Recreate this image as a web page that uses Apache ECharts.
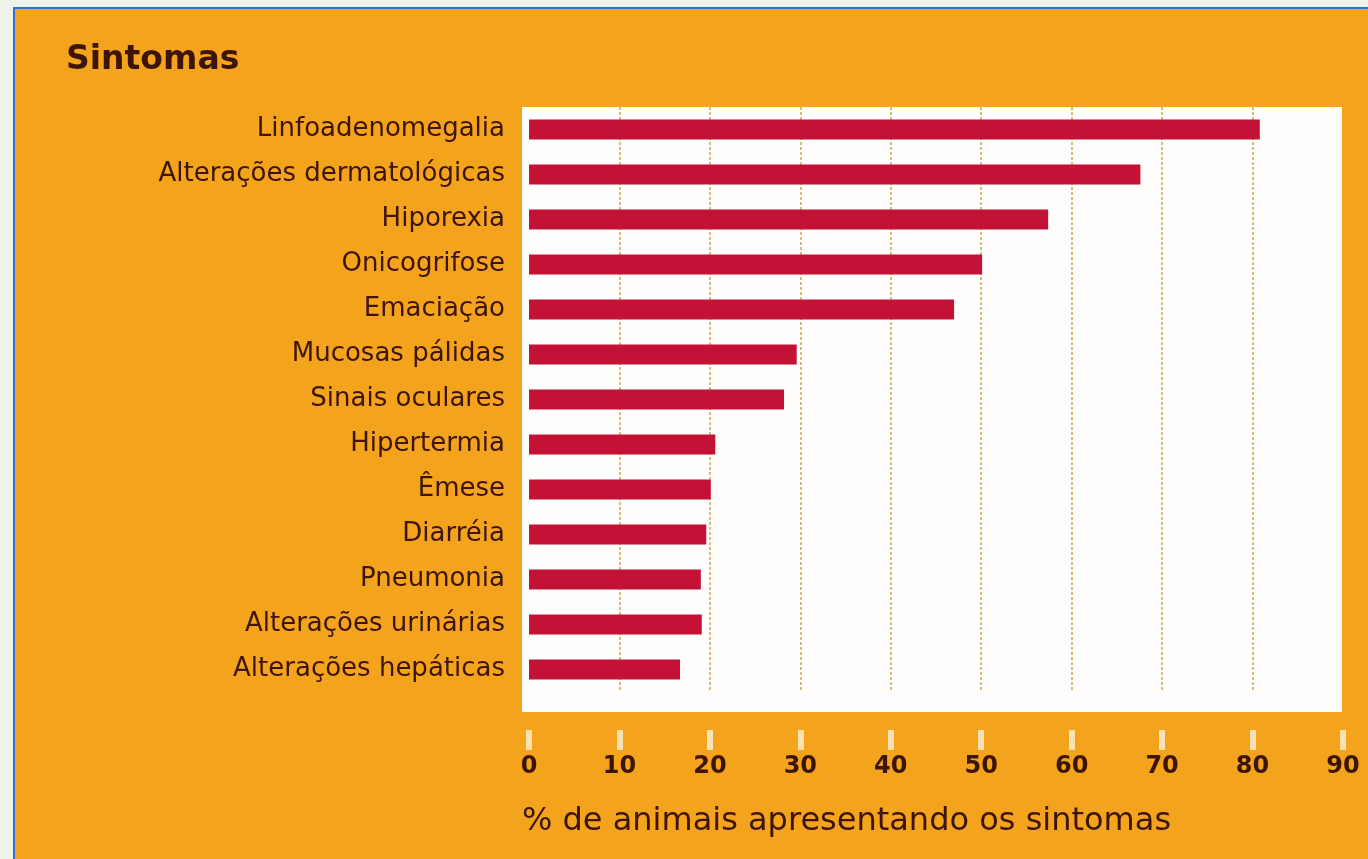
<!DOCTYPE html>
<html lang="pt">
<head>
    <meta charset="UTF-8">
    <title>Sintomas</title>
    <script src="https://cdn.jsdelivr.net/npm/echarts@6/dist/echarts.min.js"></script>
    <style>
        body { margin: 0; background: #eef3ea; }
        #main {
            position: absolute; left: 13px; top: 7px;
            width: 1353px; height: 850px;
            border-left: 2px solid #2f6fd6; border-top: 2px solid #2f6fd6;
            background: #f4a31c;
        }
    </style>
</head>
<body>
<div id="main"></div>
<script>
    // sintomas (de cima para baixo)
    var sintomas = ['Linfoadenomegalia', 'Alterações dermatológicas', 'Hiporexia', 'Onicogrifose',
        'Emaciação', 'Mucosas pálidas', 'Sinais oculares', 'Hipertermia', 'Êmese', 'Diarréia',
        'Pneumonia', 'Alterações urinárias', 'Alterações hepáticas'];
    // % de animais
    var percentuais = [80.8, 67.6, 57.4, 50.1, 47, 29.6, 28.2, 20.6, 20.1, 19.6, 19, 19.1, 16.7];
    var ticks = [0, 10, 20, 30, 40, 50, 60, 70, 80, 90];

    var texto = '#3d1408';
    var myChart = echarts.init(document.getElementById('main'));
    myChart.setOption({
        backgroundColor: '#f4a31c',
        title: {
            text: 'Sintomas',
            left: 46, top: 30,
            textStyle: { fontFamily: 'DejaVu Sans', fontSize: 33, fontWeight: 'bold', color: texto }
        },
        // papel branco atrás das barras
        graphic: [{
            type: 'rect', z: -10,
            shape: { x: 507, y: 98, width: 820, height: 605 },
            style: { fill: '#fffefc' }
        }],
        grid: { left: 514, right: 25, top: 98, bottom: 167 },
        xAxis: {
            type: 'value',
            min: ticks[0], max: ticks[ticks.length - 1], interval: 10,
            offset: 38,
            axisLine: { show: false },
            axisTick: { show: true, length: 20, lineStyle: { color: '#f7e3b2', width: 6 } },
            axisLabel: {
                margin: 25, fontFamily: 'DejaVu Sans', fontSize: 24, fontWeight: 'bold', color: texto
            },
            splitLine: {
                show: true, showMinLine: false, showMaxLine: false,
                lineStyle: { color: '#d6bd7c', width: 2, type: [3, 2] }
            },
            name: '% de animais apresentando os sintomas',
            nameLocation: 'middle', nameGap: 76,
            nameTextStyle: { fontFamily: 'DejaVu Sans', fontSize: 32, color: texto, padding: [0, 179, 0, 0] }
        },
        yAxis: {
            type: 'category',
            data: sintomas,
            inverse: true,
            axisLine: { show: false },
            axisTick: { show: false },
            axisLabel: { margin: 24, fontFamily: 'DejaVu Sans', fontSize: 26, color: texto }
        },
        series: [{
            type: 'bar',
            data: percentuais,
            barWidth: 20,
            itemStyle: { color: '#c41236' },
            silent: true
        }],
        animation: false
    });
</script>
</body>
</html>
